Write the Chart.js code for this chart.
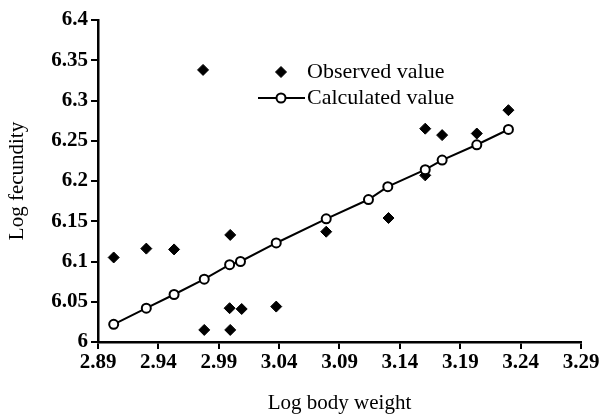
<!DOCTYPE html>
<html><head><meta charset="utf-8">
<script src="https://cdn.jsdelivr.net/npm/chart.js@4/dist/chart.umd.min.js"></script>
<style>html,body{margin:0;padding:0;background:#fff;}#wrap{width:604px;height:414px;position:relative;}</style>
</head><body><div id="wrap"><canvas id="c"></canvas></div>
<script>
const seriesNames = ["Observed value", "Calculated value"];
const xAxisTitle = "Log body weight";
const yAxisTitle = "Log fecundity";

const observedX = [2.903, 2.930, 2.953, 2.977, 2.978, 2.9995, 2.9995, 2.999, 3.009, 3.0376, 3.079, 3.1306, 3.161, 3.161, 3.175, 3.2037, 3.2299];
const observedY = [6.105, 6.116, 6.115, 6.338, 6.015, 6.133, 6.015, 6.042, 6.041, 6.044, 6.137, 6.154, 6.265, 6.207, 6.257, 6.259, 6.288];

const calculatedX = [2.903, 2.930, 2.953, 2.978, 2.999, 3.008, 3.0376, 3.079, 3.114, 3.130, 3.161, 3.175, 3.2037, 3.2299];
const calculatedY = [6.022, 6.042, 6.059, 6.078, 6.096, 6.100, 6.123, 6.153, 6.177, 6.193, 6.214, 6.226, 6.245, 6.264];

const xTickValues = [2.89, 2.94, 2.99, 3.04, 3.09, 3.14, 3.19, 3.24, 3.29];
const xTickLabels = ["2.89", "2.94", "2.99", "3.04", "3.09", "3.14", "3.19", "3.24", "3.29"];
const yTickValues = [6, 6.05, 6.1, 6.15, 6.2, 6.25, 6.3, 6.35, 6.4];
const yTickLabels = ["6", "6.05", "6.1", "6.15", "6.2", "6.25", "6.3", "6.35", "6.4"];

const SERIF = '"Liberation Serif", "Times New Roman", serif';

const legendPlugin = {
  id: 'customLegend',
  afterDraw(chart) {
    const ctx = chart.ctx;
    ctx.save();
    const mx = 281, tx = 307, rows = [72, 98];
    ctx.fillStyle = '#000'; ctx.strokeStyle = '#000'; ctx.lineWidth = 1;
    const r = 5.5;
    ctx.beginPath();
    ctx.moveTo(mx, rows[0] - r); ctx.lineTo(mx + r, rows[0]); ctx.lineTo(mx, rows[0] + r); ctx.lineTo(mx - r, rows[0]);
    ctx.closePath(); ctx.fill(); ctx.stroke();
    ctx.lineWidth = 2;
    ctx.beginPath(); ctx.moveTo(258, rows[1]); ctx.lineTo(305, rows[1]); ctx.stroke();
    ctx.beginPath(); ctx.arc(mx, rows[1], 4.5, 0, Math.PI * 2);
    ctx.fillStyle = '#fff'; ctx.fill(); ctx.stroke();
    ctx.fillStyle = '#000';
    ctx.font = '22px ' + SERIF;
    ctx.textBaseline = 'middle';
    ctx.textAlign = 'left';
    ctx.fillText(seriesNames[0], tx, rows[0]);
    ctx.fillText(seriesNames[1], tx, rows[1]);
    ctx.restore();
  }
};

const ctx = document.getElementById('c');
new Chart(ctx, {
  type: 'scatter',
  data: {
    datasets: [
      {
        label: seriesNames[1],
        data: calculatedX.map((x, i) => ({x, y: calculatedY[i]})),
        showLine: true,
        borderColor: '#000',
        borderWidth: 2,
        pointStyle: 'circle',
        pointRadius: 4.5,
        pointBorderWidth: 2,
        pointBackgroundColor: '#fff',
        pointBorderColor: '#000',
        order: 0
      },
      {
        label: seriesNames[0],
        data: observedX.map((x, i) => ({x, y: observedY[i]})),
        showLine: false,
        pointStyle: 'rectRot',
        pointRadius: 5.5,
        pointBorderWidth: 1,
        pointBackgroundColor: '#000',
        pointBorderColor: '#000',
        order: 1
      }
    ]
  },
  options: {
    responsive: true,
    maintainAspectRatio: false,
    animation: false,
    layout: { padding: { left: 0, right: 23, top: 20, bottom: 0 } },
    plugins: { legend: { display: false }, tooltip: { enabled: false } },
    scales: {
      x: {
        type: 'linear',
        min: 2.89, max: 3.29,
        afterBuildTicks: s => { s.ticks = xTickValues.map(v => ({ value: v })); },
        afterFit: s => { s.height = 72; },
        ticks: {
          callback: (v, i) => xTickLabels[i],
          color: '#000',
          font: { family: SERIF, size: 21, weight: 'bold' },
          padding: 1,
          maxRotation: 0,
          autoSkip: false
        },
        grid: { display: true, drawOnChartArea: false, drawTicks: true, tickLength: 7, color: '#000', lineWidth: 2 },
        border: { display: true, color: '#000', width: 2.5 },
        title: { display: true, text: xAxisTitle, color: '#000', font: { family: SERIF, size: 21, lineHeight: 1 }, padding: { top: 0, bottom: 0 } }
      },
      y: {
        type: 'linear',
        min: 6, max: 6.4,
        afterBuildTicks: s => { s.ticks = yTickValues.map(v => ({ value: v })); },
        afterFit: s => { s.width = 98; },
        ticks: {
          callback: (v, i) => yTickLabels[i],
          color: '#000',
          font: { family: SERIF, size: 21, weight: 'bold' },
          padding: 3,
          autoSkip: false
        },
        grid: { display: true, drawOnChartArea: false, drawTicks: true, tickLength: 7, color: '#000', lineWidth: 2 },
        border: { display: true, color: '#000', width: 2.5 },
        title: { display: true, text: yAxisTitle, color: '#000', font: { family: SERIF, size: 21, lineHeight: 1 }, padding: { top: 7, bottom: 0 } }
      }
    }
  },
  plugins: [legendPlugin]
});
</script>
</body></html>
